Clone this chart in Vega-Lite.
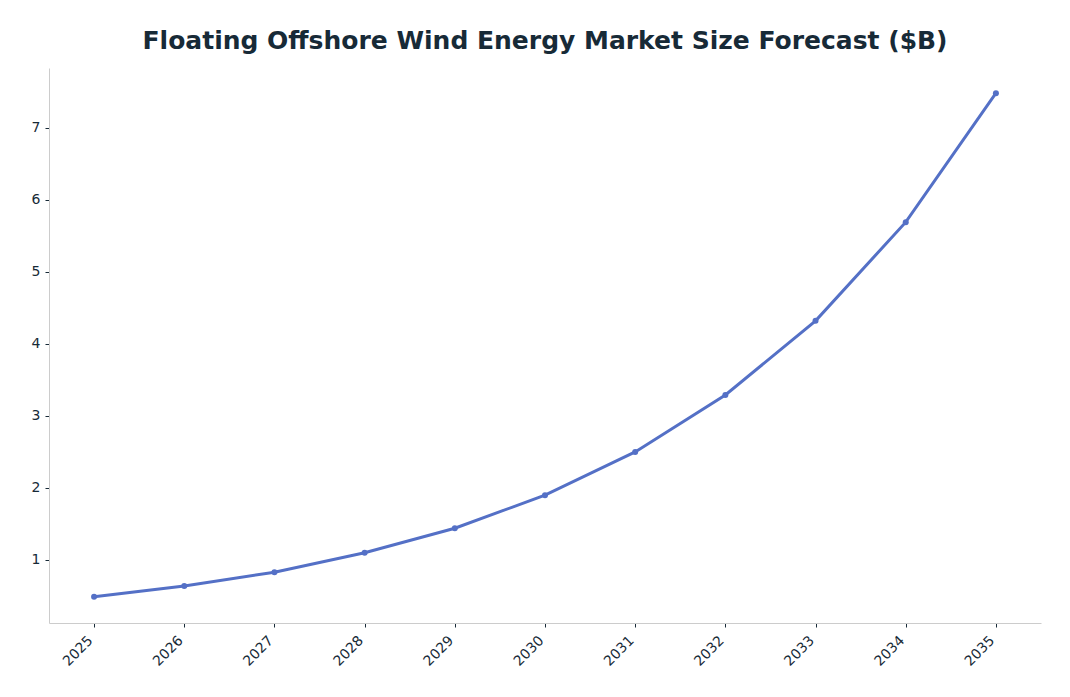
{
  "$schema": "https://vega.github.io/schema/vega-lite/v6.json",
  "width": 992,
  "height": 555,
  "autosize": {"type": "none"},
  "padding": {"left": 49, "top": 68, "right": 29, "bottom": 74},
  "background": "white",
  "title": {
    "text": "Floating Offshore Wind Energy Market Size Forecast ($B)",
    "font": "DejaVu Sans",
    "fontSize": 25,
    "fontWeight": "bold",
    "color": "#172a37",
    "offset": 14
  },
  "data": {
    "values": [
      {"year": "2025", "size": 0.49},
      {"year": "2026", "size": 0.64},
      {"year": "2027", "size": 0.83},
      {"year": "2028", "size": 1.10},
      {"year": "2029", "size": 1.44},
      {"year": "2030", "size": 1.90},
      {"year": "2031", "size": 2.50},
      {"year": "2032", "size": 3.29},
      {"year": "2033", "size": 4.32},
      {"year": "2034", "size": 5.69},
      {"year": "2035", "size": 7.48}
    ]
  },
  "mark": {
    "type": "line",
    "color": "#5470c6",
    "strokeWidth": 3,
    "point": {"filled": true, "size": 36, "color": "#5470c6"}
  },
  "encoding": {
    "x": {
      "field": "year",
      "type": "ordinal",
      "title": null,
      "scale": {"type": "point", "padding": 0.5},
      "axis": {"labelAngle": -45, "labelAlign": "right", "labelBaseline": "alphabetic", "labelPadding": 14, "labelOffset": -1}
    },
    "y": {
      "field": "size",
      "type": "quantitative",
      "title": null,
      "scale": {"domain": [0.125, 7.83], "nice": false, "zero": false},
      "axis": {"values": [1, 2, 3, 4, 5, 6, 7], "labelPadding": 5}
    }
  },
  "config": {
    "view": {"stroke": null},
    "axis": {
      "grid": false,
      "domainColor": "#cccccc",
      "domainWidth": 1,
      "tickColor": "#172a37",
      "tickSize": 4,
      "labelFont": "DejaVu Sans",
      "labelFontSize": 14,
      "labelColor": "#172a37"
    }
  }
}
